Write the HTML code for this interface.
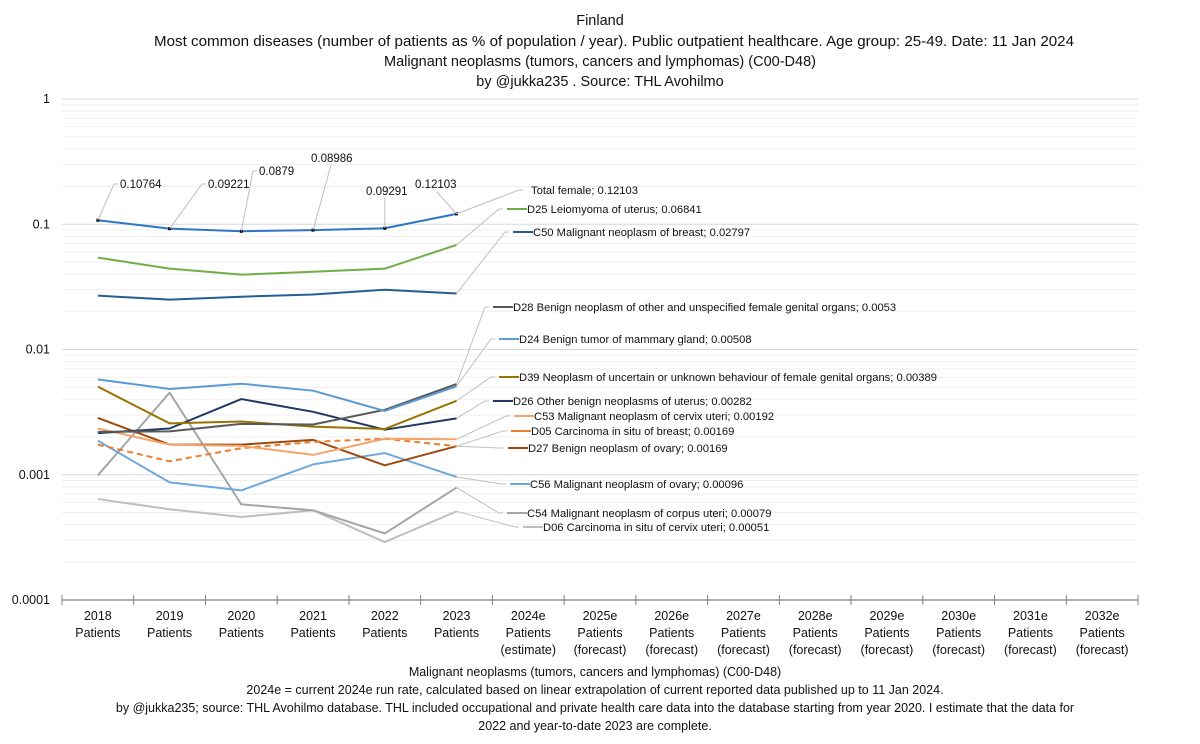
<!DOCTYPE html>
<html><head><meta charset="utf-8">
<style>
html,body{margin:0;padding:0;background:#fff;}
svg{display:block;font-family:"Liberation Sans","DejaVu Sans",sans-serif;}
</style></head>
<body>
<svg id="chart" width="1200" height="744" viewBox="0 0 1200 744" xmlns="http://www.w3.org/2000/svg">
<rect x="0" y="0" width="1200" height="744" fill="#fff"/>
<g font-size="14.5" fill="#111" text-anchor="middle">
<text x="600" y="25">Finland</text>
<text x="614" y="46" textLength="920" lengthAdjust="spacingAndGlyphs">Most common diseases (number of patients as % of population / year).  Public outpatient healthcare. Age group: 25-49.  Date: 11 Jan 2024</text>
<text x="600" y="66">Malignant neoplasms (tumors, cancers and lymphomas) (C00-D48)</text>
<text x="600" y="86">by @jukka235 . Source: THL Avohilmo</text>
</g>
<g id="grid"></g>
<g id="yaxis"></g>
<g id="xaxis"></g>
<g id="series"></g>
<g id="labels"></g>
<g font-size="12.5" fill="#111" text-anchor="middle">
<text x="595" y="676">Malignant neoplasms (tumors, cancers and lymphomas) (C00-D48)</text>
<text x="595" y="694">2024e = current 2024e run rate, calculated based on linear extrapolation of current reported data published up to 11 Jan 2024.</text>
<text x="595" y="712">by @jukka235; source: THL Avohilmo database. THL included occupational and private health care data into the database starting from year 2020. I estimate that the data for</text>
<text x="595" y="730">2022 and year-to-date 2023 are complete.</text>
</g>
</svg>
<script>
const categories=["2018|Patients","2019|Patients","2020|Patients","2021|Patients","2022|Patients","2023|Patients","2024e|Patients|(estimate)","2025e|Patients|(forecast)","2026e|Patients|(forecast)","2027e|Patients|(forecast)","2028e|Patients|(forecast)","2029e|Patients|(forecast)","2030e|Patients|(forecast)","2031e|Patients|(forecast)","2032e|Patients|(forecast)"];
const yTicks=[1,0.1,0.01,0.001,0.0001];
const yTickLabels=["1","0.1","0.01","0.001","0.0001"];
const seriesNames=["Total female","D25 Leiomyoma of uterus","C50 Malignant neoplasm of breast","D28 Benign neoplasm of other and unspecified female genital organs","D24 Benign tumor of mammary gland","D39 Neoplasm of uncertain or unknown behaviour of female genital organs","D26 Other benign neoplasms of uterus","C53 Malignant neoplasm of cervix uteri","D05 Carcinoma in situ of breast","D27 Benign neoplasm of ovary","C56 Malignant neoplasm of ovary","C54 Malignant neoplasm of corpus uteri","D06 Carcinoma in situ of cervix uteri"];
const totalFemale=[0.10764,0.09221,0.0879,0.08986,0.09291,0.12103];
const d25=[0.0541,0.0442,0.0396,0.0418,0.0442,0.06841];
const c50=[0.0269,0.025,0.0264,0.0275,0.030,0.02797];
const d28=[0.0022,0.00222,0.00255,0.00252,0.0033,0.0053];
const d24=[0.00577,0.00484,0.00533,0.00469,0.00323,0.00508];
const d39=[0.00505,0.00257,0.00266,0.00242,0.00232,0.00389];
const d26=[0.00215,0.00234,0.00402,0.00318,0.00229,0.00282];
const c53=[0.00234,0.00174,0.0017,0.00144,0.00194,0.00192];
const d05=[0.00174,0.00128,0.00163,0.00183,0.00194,0.00169];
const d27=[0.00284,0.00174,0.00174,0.0019,0.00119,0.00169];
const c56=[0.00187,0.00087,0.00075,0.00121,0.00149,0.00096];
const c54=[0.00099,0.00452,0.00058,0.00052,0.00034,0.00079];
const d06=[0.00064,0.00053,0.00046,0.00052,0.00029,0.00051];
const lastValueLabels=["0.12103","0.06841","0.02797","0.0053","0.00508","0.00389","0.00282","0.00192","0.00169","0.00169","0.00096","0.00079","0.00051"];

const NS="http://www.w3.org/2000/svg";
const X0=62,X1=1138,YTOP=99,YBOT=600;
const bw=(X1-X0)/categories.length;
function xs(i){return X0+bw*(i+0.5);}
function ys(v){return YBOT-(Math.log10(v)+4)/4*(YBOT-YTOP);}
function mk(tag,attrs,parent){const e=document.createElementNS(NS,tag);for(const k in attrs)e.setAttribute(k,attrs[k]);parent.appendChild(e);return e;}

const grid=document.getElementById('grid');
for(let d=-4;d<0;d++){for(let m=2;m<=9;m++){const v=m*Math.pow(10,d);
const l=mk('line',{x1:X0,x2:X1,y1:ys(v),y2:ys(v),stroke:'#efefef','stroke-width':1},grid);

}}
const yax=document.getElementById('yaxis');
yTicks.forEach((v,i)=>{
 if(v>0.0001){const l=mk('line',{x1:X0,x2:X1,y1:ys(v),y2:ys(v),stroke:'#d9d9d9','stroke-width':1},grid);
 
 }
 const t=mk('text',{x:50,y:ys(v)+4,'text-anchor':'end','font-size':12.5,fill:'#111'},yax);
 t.textContent=yTickLabels[i];
 
 
});
const xax=document.getElementById('xaxis');
const al=mk('line',{x1:X0,x2:X1,y1:YBOT,y2:YBOT,stroke:'#7f7f7f','stroke-width':1.3},xax);


for(let i=0;i<=categories.length;i++){const x=X0+bw*i;
 const t=mk('line',{x1:x,x2:x,y1:YBOT-5,y2:YBOT+5,stroke:'#7f7f7f','stroke-width':1},xax);
 
 }
categories.forEach((c,i)=>{
 const t=mk('text',{x:xs(i),'text-anchor':'middle','font-size':12.5,fill:'#111'},xax);
 
 
 c.split('|').forEach((p,j)=>{const s=mk('tspan',{x:xs(i),y:620+j*17},t);s.textContent=p;});
});

const allSeries=[totalFemale,d25,c50,d28,d24,d39,d26,c53,d05,d27,c56,c54,d06];
const colors=["#2e75c6","#70ad47","#255e91","#595959","#5b9bd5","#997300","#203864","#f4a46a","#ed7d31","#9e480e","#6fa8dc","#a5a5a5","#bfbfbf"];
const keys=["total","d25","c50","d28","d24","d39","d26","c53","d05","d27","c56","c54","d06"];
const legendPos=[[531,190],[527,209],[533,232],[513,307],[519,339],[519,377],[513,401],[534,416],[531,431],[528,448],[530,484],[527,513],[543,527]];
const drawOrder=[12,11,10,9,8,7,6,5,3,4,2,1,0];
const ser=document.getElementById('series');
const lab=document.getElementById('labels');
drawOrder.forEach(k=>{
 const data=allSeries[k];
 const pts=data.map((v,i)=>xs(i)+','+ys(v)).join(' ');
 const p=mk('polyline',{points:pts,fill:'none',stroke:colors[k],'stroke-width':2,'stroke-linejoin':'round'},ser);
 if(k===8)p.setAttribute('stroke-dasharray','6,4');
 
 
});
totalFemale.forEach((v,i)=>{
 const c=mk('rect',{x:xs(i)-1.5,y:ys(v)-1.5,width:3,height:3,fill:'#000'},ser);
 
 
});
allSeries.forEach((data,k)=>{
 const n=data.length-1;const px=xs(n),py=ys(data[n]);
 const [tx,ty]=legendPos[k];
 const dashStart=k===0?tx-4:tx-20;
 const lead=mk('polyline',{points:`${px},${py} ${dashStart-8},${ty} ${dashStart-4},${ty}`,fill:'none',stroke:'#bfbfbf','stroke-width':1},lab);
 
 
 if(k>0){const d=mk('line',{x1:dashStart,x2:tx,y1:ty,y2:ty,stroke:colors[k],'stroke-width':2},lab);
 
 }
 const t=mk('text',{x:tx,y:ty+4,'font-size':11.2,fill:'#111'},lab);
 t.textContent=seriesNames[k]+'; '+lastValueLabels[k];
 
 
});
const tLabelPos=[[120,184],[208,184],[259,171],[311,158],[366,191],[415,184]];
totalFemale.forEach((v,i)=>{
 const px=xs(i),py=ys(v);const [tx,ty]=tLabelPos[i];
 let pts;
 if(i===3)pts=`${px},${py} ${tx+20},${ty+7}`;
 else if(i===4)pts=`${px},${py} ${px},${ty+6}`;
 else if(i===5)pts=`${px},${py} ${tx+22},${ty+8}`;
 else pts=`${px},${py} ${tx-6},${ty} ${tx-2},${ty}`;
 const l=mk('polyline',{points:pts,fill:'none',stroke:'#bfbfbf','stroke-width':1},lab);
 
 
 const t=mk('text',{x:tx,y:ty+4,'font-size':11.5,fill:'#111'},lab);
 t.textContent=String(v);
 
 
});
</script>
</body></html>
